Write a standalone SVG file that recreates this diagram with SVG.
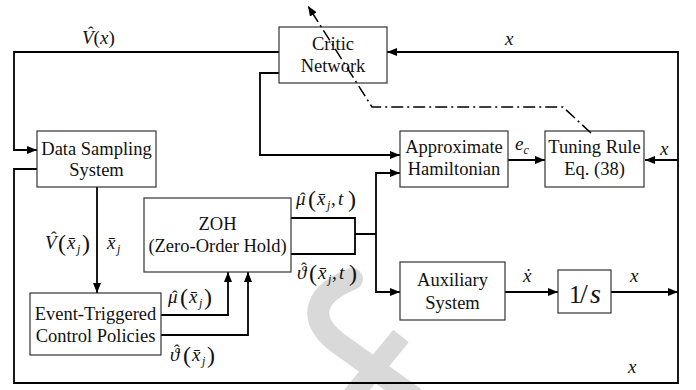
<svg xmlns="http://www.w3.org/2000/svg" width="696" height="390" viewBox="0 0 696 390">
<style>
.box{fill:#fff;stroke:#333;stroke-width:1.2}
.t{font-family:"Liberation Serif","Times New Roman",serif;font-size:18.5px;fill:#111;text-anchor:middle}
.m{font-family:"Liberation Serif","Times New Roman",serif;font-size:19px;font-style:italic;fill:#111}
.h{font-size:17px;font-style:normal}
.n{font-style:normal}
.c{fill:none;stroke:#000;stroke-width:1.8}
.dd{fill:none;stroke:#000;stroke-width:1.5;stroke-dasharray:12 4 2 4}
.wm{fill:none;stroke:#d9d9d9}
</style>
<defs>
<marker id="a" viewBox="0 0 10 8" refX="10" refY="4" markerWidth="10" markerHeight="8" markerUnits="userSpaceOnUse" orient="auto"><path d="M0,0L10,4L0,8z" fill="#000"/></marker>
</defs>
<rect width="696" height="390" fill="#fff"/>
<g id="watermark">
<path class="wm" stroke-width="22" d="M352 279 C312 295 305 322 345 348 L412 396" stroke-linecap="round"/>
<path class="wm" stroke-width="20" d="M401 336 L352 396"/>
</g>
<g id="connectors">
<path class="c" d="M279 52 H14 V150 H37" marker-end="url(#a)"/>
<path class="c" d="M37 169 H14 V383 H678 V52 H387" marker-end="url(#a)"/>
<path class="c" d="M678 160 H645" marker-end="url(#a)"/>
<path class="c" d="M279 73 H260 V155 H400" marker-end="url(#a)"/>
<path class="c" d="M508 160 H545" marker-end="url(#a)"/>
<path class="c" d="M291 218 H355 V254 H291 M355 234 H376"/>
<path class="c" d="M376 234 V173 H400" marker-end="url(#a)"/>
<path class="c" d="M376 234 V292 H400" marker-end="url(#a)"/>
<path class="c" d="M505 292 H558" marker-end="url(#a)"/>
<path class="c" d="M611 292 H678" marker-end="url(#a)"/>
<path class="c" d="M97 187 V293" marker-end="url(#a)"/>
<path class="c" d="M161 315 H228 V272" marker-end="url(#a)"/>
<path class="c" d="M161 335 H248 V272" marker-end="url(#a)"/>
</g>
<g id="critic"><rect class="box" x="279" y="27" width="108" height="56"/><text class="t" x="333" y="50">Critic</text><text class="t" x="333" y="72">Network</text></g>
<g id="sampling"><rect class="box" x="37" y="131" width="119" height="56"/><text class="t" x="96.5" y="155">Data Sampling</text><text class="t" x="96.5" y="176">System</text></g>
<g id="hamiltonian"><rect class="box" x="400" y="131" width="108" height="56"/><text class="t" x="454" y="153">Approximate</text><text class="t" x="454" y="175">Hamiltonian</text></g>
<g id="tuning"><rect class="box" x="545" y="131" width="99" height="56"/><text class="t" x="594.5" y="153">Tuning Rule</text><text class="t" x="594.5" y="175">Eq. (38)</text></g>
<g id="zoh"><rect class="box" x="144" y="198" width="147" height="74"/><text class="t" x="217.5" y="230">ZOH</text><text class="t" x="217.5" y="252">(Zero-Order Hold)</text></g>
<g id="event"><rect class="box" x="30" y="293" width="131" height="62"/><text class="t" x="95.5" y="320">Event-Triggered</text><text class="t" x="95.5" y="342">Control Policies</text></g>
<g id="auxiliary"><rect class="box" x="400" y="262" width="105" height="58"/><text class="t" x="452.5" y="286">Auxiliary</text><text class="t" x="452.5" y="309">System</text></g>
<g id="integrator"><rect class="box" x="558" y="270" width="53" height="43"/>
<text class="m" y="303"><tspan class="n" x="569" font-size="25">1</tspan><tspan class="n" x="580" font-size="28">/</tspan><tspan x="590" font-size="28">s</tspan></text></g>
<g id="dashdot"><path class="dd" d="M591 133 L563 107 L372 107 L308 6" marker-end="url(#a)"/></g>
<g id="labels">
<text class="m" y="44"><tspan x="82">V</tspan><tspan class="n">(</tspan>x<tspan class="n">)</tspan><tspan class="h" x="88" y="38">ˆ</tspan></text>
<text class="m" x="505" y="45">x</text>
<text class="m" x="660" y="155">x</text>
<text class="m" x="515" y="150">e<tspan font-size="12" dy="4">c</tspan></text>
<text class="m" x="523" y="282">ẋ</text>
<text class="m" x="630" y="282">x</text>
<text class="m" x="628" y="373">x</text>
<text class="m" y="205"><tspan x="296">μ</tspan><tspan class="n" x="308" y="207" font-size="24">(</tspan><tspan x="317" y="205">x̄</tspan><tspan x="327" y="209" font-size="12">j</tspan><tspan class="n" x="331" y="205">,</tspan><tspan x="338" y="205">t</tspan><tspan class="n" x="348" y="207" font-size="24">)</tspan><tspan class="h" x="300" y="204">ˆ</tspan></text>
<text class="m" y="279"><tspan x="297">ϑ</tspan><tspan class="n" x="309" y="281" font-size="24">(</tspan><tspan x="318" y="279">x̄</tspan><tspan x="328" y="283" font-size="12">j</tspan><tspan class="n" x="332" y="279">,</tspan><tspan x="339" y="279">t</tspan><tspan class="n" x="349" y="281" font-size="24">)</tspan><tspan class="h" x="301" y="274">ˆ</tspan></text>
<text class="m" y="249"><tspan x="45">V</tspan><tspan class="n" x="58" y="251" font-size="24">(</tspan><tspan x="67" y="249">x̄</tspan><tspan x="77" y="253" font-size="12">j</tspan><tspan class="n" x="82" y="251" font-size="24">)</tspan><tspan class="h" x="51" y="243">ˆ</tspan></text>
<text class="m" y="249"><tspan x="107">x̄</tspan><tspan x="117" y="253" font-size="12">j</tspan></text>
<text class="m" y="303"><tspan x="168">μ</tspan><tspan class="n" x="180" y="305" font-size="24">(</tspan><tspan x="189" y="303">x̄</tspan><tspan x="199" y="307" font-size="12">j</tspan><tspan class="n" x="204" y="305" font-size="24">)</tspan><tspan class="h" x="172" y="302">ˆ</tspan></text>
<text class="m" y="361"><tspan x="170">ϑ</tspan><tspan class="n" x="183" y="363" font-size="24">(</tspan><tspan x="192" y="361">x̄</tspan><tspan x="202" y="365" font-size="12">j</tspan><tspan class="n" x="207" y="363" font-size="24">)</tspan><tspan class="h" x="174" y="356">ˆ</tspan></text>
</g>
</svg>
